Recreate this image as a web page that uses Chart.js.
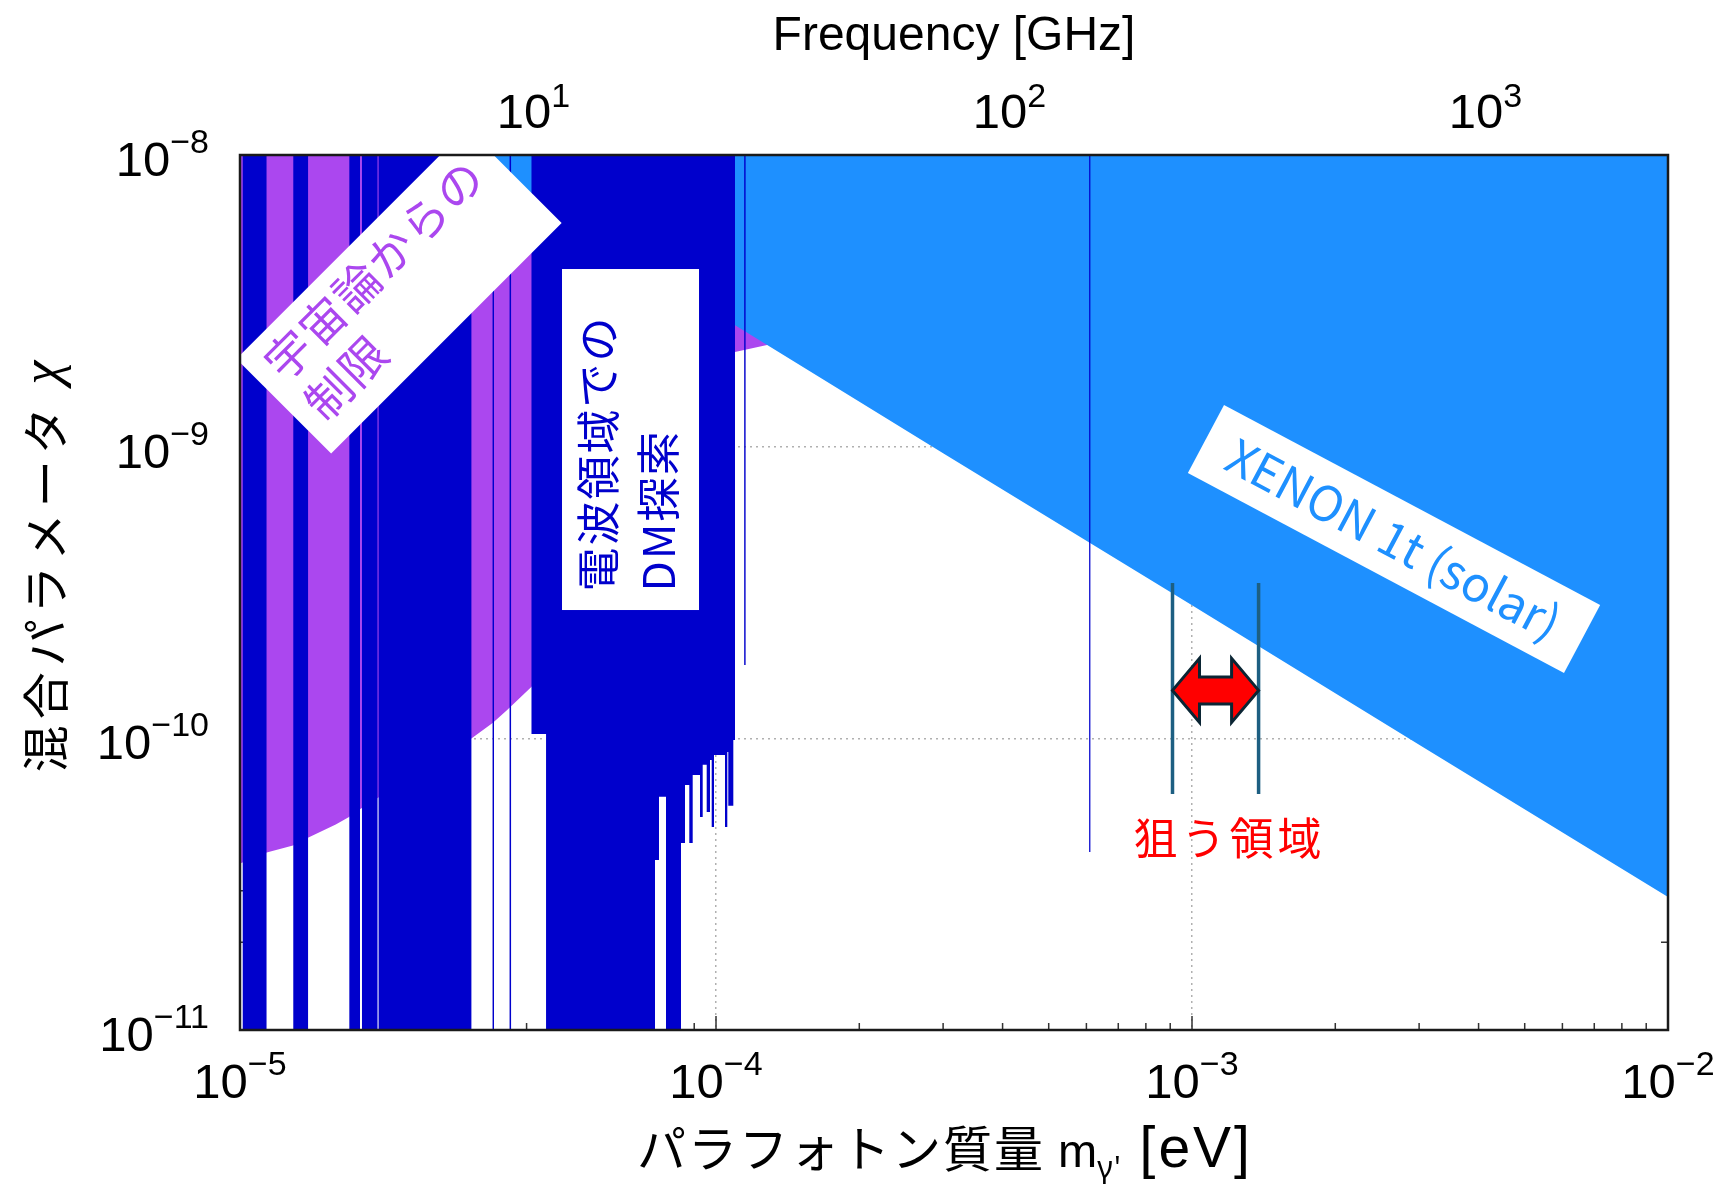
<!DOCTYPE html>
<html>
<head>
<meta charset="utf-8">
<title>パラフォトン探索</title>
<script src="https://cdn.jsdelivr.net/npm/chart.js@4.4.1/dist/chart.umd.min.js"></script>
<style>
  html, body { margin: 0; padding: 0; background: #fff; }
  #wrap { width: 1724px; height: 1189px; position: relative; }
</style>
</head>
<body>
<div id="wrap"><canvas id="chart"></canvas></div>
<script>
// axes (tick labels are 10 raised to these exponents)
const massRange = [1e-5, 1e-2];
const chiRange = [1e-11, 1e-8];
const massTicks = [1e-5, 1e-4, 1e-3, 1e-2];
const massTickLabels = ['−5', '−4', '−3', '−2'];
const chiTicks = [1e-11, 1e-10, 1e-9, 1e-8];
const chiTickLabels = ['−11', '−10', '−9', '−8'];
const freqTicks = [10, 100, 1000];
const freqTickLabels = ['1', '2', '3'];
const GHZ_PER_EV = 2.418e5;

// cosmology bound, lower edge of the purple area
const cosmoMass = [1e-5, 1.138e-5, 1.292e-5, 1.389e-5, 1.589e-5, 1.691e-5, 1.793e-5,
  3.063e-5, 3.399e-5, 3.641e-5, 4.108e-5, 5.7e-5, 8.4e-5, 1.096e-4, 1.28e-4, 1.5e-4];
const cosmoChi = [3.72e-11, 4.06e-11, 4.29e-11, 4.56e-11, 5.06e-11, 5.36e-11, 5.74e-11,
  9.98e-11, 1.13e-10, 1.25e-10, 1.51e-10, 3.8e-10, 1.24e-9, 2.11e-9, 2.23e-9, 2.36e-9];

// XENON1T solar, lower edge of the light blue area
const xenonMass = [1e-5, 4e-5, 1e-4, 3e-4, 1e-3, 3e-3, 1e-2];
const xenonChi = [2.86e-8, 7.1e-9, 2.86e-9, 9.5e-10, 2.86e-10, 9.5e-11, 2.86e-11];

// radio band DM searches: each band from radioLo to radioHi is excluded down to radioChi
const radioLo = [1.012e-5, 1.294e-5, 1.697e-5, 1.804e-5, 1.955e-5, 3.393e-5, 3.684e-5,
  4.096e-5, 4.395e-5, 7.445e-5, 7.590e-5, 7.851e-5, 8.442e-5, 8.607e-5, 8.788e-5,
  8.934e-5, 9.255e-5, 9.377e-5, 9.560e-5, 9.714e-5, 9.794e-5, 9.904e-5, 1.0445e-4,
  1.0562e-4, 1.0613e-4, 1.0874e-4, 1.146e-4, 6.08e-4];
const radioHi = [1.137e-5, 1.390e-5, 1.787e-5, 1.945e-5, 3.063e-5, 3.417e-5, 3.711e-5,
  4.395e-5, 7.445e-5, 7.590e-5, 7.851e-5, 8.442e-5, 8.607e-5, 8.788e-5, 8.934e-5,
  9.255e-5, 9.377e-5, 9.560e-5, 9.714e-5, 9.794e-5, 9.904e-5, 1.0445e-4, 1.0562e-4,
  1.0613e-4, 1.0874e-4, 1.0964e-4, 1.154e-4, 6.124e-4];
const radioChi = [1e-12, 1e-12, 1e-12, 1e-12, 1e-12, 1e-12, 1e-12,
  1.035e-10, 1e-12, 3.83e-11, 6.30e-11, 1e-12, 4.38e-11, 6.92e-11, 4.38e-11,
  7.49e-11, 5.37e-11, 8.11e-11, 5.59e-11, 8.43e-11, 4.97e-11, 8.77e-11, 4.97e-11,
  8.98e-11, 5.87e-11, 9.87e-11, 1.785e-10, 4.08e-11];

// target region (狙う領域)
const targetMass = [9.1e-4, 1.38e-3];
const targetChi = [6.45e-11, 3.41e-10];
const arrowChi = 1.46e-10;

const DARK_BLUE = '#0000CC';
const PURPLE = '#AB47EF';
const XENON_BLUE = '#1E90FF';
const TARGET_COLOR = '#1d5f82';

const radioPoints = [];
radioLo.forEach((lo, i) => {
  radioPoints.push({ x: lo, y: chiRange[1] }, { x: lo, y: radioChi[i] },
    { x: radioHi[i], y: radioChi[i] }, { x: radioHi[i], y: chiRange[1] });
});
const cosmoPoints = cosmoMass.map((m, i) => ({ x: m, y: cosmoChi[i] }));
const xenonPoints = xenonMass.map((m, i) => ({ x: m, y: xenonChi[i] }));

function areaSet(label, points, color) {
  return {
    label: label, data: points, fill: 'end', backgroundColor: color,
    borderColor: 'transparent', borderWidth: 0, pointRadius: 0, tension: 0
  };
}
function targetSet(m) {
  return {
    label: 'target', data: [{ x: m, y: targetChi[0] }, { x: m, y: targetChi[1] }],
    fill: false, borderColor: TARGET_COLOR, borderWidth: 3.5, pointRadius: 0
  };
}

// "10" with a raised exponent
function drawPow(ctx, exp, x, base, align, rise) {
  ctx.font = '49px "Liberation Sans"';
  const wb = ctx.measureText('10').width;
  ctx.font = '34px "Liberation Sans"';
  const we = ctx.measureText(exp).width;
  const x0 = align === 'right' ? x - wb - we : x - (wb + we) / 2;
  ctx.font = '49px "Liberation Sans"';
  ctx.fillText('10', x0, base);
  ctx.font = '34px "Liberation Sans"';
  ctx.fillText(exp, x0 + wb, base - rise);
}

// text made of pieces with their own font / spacing / vertical shift
function drawPieces(ctx, parts, x, base) {
  parts.forEach(p => {
    ctx.font = p.font; ctx.letterSpacing = p.sp || '0px';
    ctx.fillText(p.t, x, base + (p.dy || 0));
    x += ctx.measureText(p.t).width;
  });
}
function piecesWidth(ctx, parts) {
  let w = 0;
  parts.forEach(p => {
    ctx.font = p.font; ctx.letterSpacing = p.sp || '0px';
    w += ctx.measureText(p.t).width;
  });
  return w;
}

// rotated white box with text lines
function textBox(ctx, cx, cy, angle, w, h, lines, opts) {
  ctx.save();
  ctx.translate(cx, cy);
  ctx.rotate(angle * Math.PI / 180);
  ctx.fillStyle = '#fff';
  ctx.fillRect(-w / 2, -h / 2, w, h);
  ctx.fillStyle = opts.color;
  ctx.font = opts.font;
  ctx.letterSpacing = opts.spacing || '0px';
  ctx.textAlign = opts.align;
  ctx.textBaseline = 'middle';
  lines.forEach((t, i) => ctx.fillText(t, opts.x, opts.y[i]));
  ctx.restore();
}

const decor = {
  id: 'decor',
  beforeDatasetsDraw(chart) {
    const { ctx, chartArea: a, scales } = chart;
    ctx.save();
    ctx.strokeStyle = '#333';
    ctx.lineWidth = 1.5;
    ctx.beginPath();
    for (let d = -5; d < -2; d++) {
      for (let k = 1; k < 10; k++) {
        if (k === 1 && d === -5) continue;
        const x = scales.x.getPixelForValue(k * Math.pow(10, d));
        const len = k === 1 ? 14 : 7;
        ctx.moveTo(x, a.bottom); ctx.lineTo(x, a.bottom - len);
      }
    }
    for (let d = -11; d < -8; d++) {
      for (let k = 1; k < 10; k++) {
        if (k === 1 && d === -11) continue;
        const y = scales.y.getPixelForValue(k * Math.pow(10, d));
        const len = k === 1 ? 14 : 7;
        ctx.moveTo(a.left, y); ctx.lineTo(a.left + len, y);
        ctx.moveTo(a.right, y); ctx.lineTo(a.right - len, y);
      }
    }
    for (let d = 0; d < 4; d++) {
      for (let k = 1; k < 10; k++) {
        const v = k * Math.pow(10, d);
        if (v <= scales.x2.min || v >= scales.x2.max) continue;
        const x = scales.x2.getPixelForValue(v);
        const len = k === 1 ? 14 : 7;
        ctx.moveTo(x, a.top); ctx.lineTo(x, a.top + len);
      }
    }
    ctx.stroke();
    ctx.restore();
  },
  afterDatasetsDraw(chart) {
    const { ctx, chartArea: a, scales } = chart;
    const px = m => scales.x.getPixelForValue(m);
    const py = c => scales.y.getPixelForValue(c);

    // cosmology label, clipped by the frame
    ctx.save();
    ctx.beginPath();
    ctx.rect(a.left, a.top, a.width, a.height);
    ctx.clip();
    textBox(ctx, px(2.158e-5), py(3.418e-9), -45, 326, 134, ['宇宙論からの', '制限'],
      { color: PURPLE, font: '46px "Noto Sans CJK JP"', spacing: '2px', align: 'left', x: -146, y: [-33, 24] });
    ctx.restore();

    textBox(ctx, px(6.613e-5), py(1.058e-9), -90, 341, 137, ['電波領域での', 'DM探索'],
      { color: DARK_BLUE, font: '44px "Noto Sans CJK JP"', spacing: '2px', align: 'left', x: -152, y: [-32, 28] });

    textBox(ctx, px(2.657e-3), py(4.826e-10), 28, 426, 77, ['XENON 1t (solar)'],
      { color: XENON_BLUE, font: '48px "Noto Sans CJK JP"', align: 'center', x: 0, y: [0] });

    // double arrow between the target lines
    const xl = px(targetMass[0]), xr = px(targetMass[1]), yc = py(arrowChi);
    const hl = 27, hh = 32, sh = 13.5;
    ctx.save();
    ctx.beginPath();
    ctx.moveTo(xl, yc);
    ctx.lineTo(xl + hl, yc - hh); ctx.lineTo(xl + hl, yc - sh);
    ctx.lineTo(xr - hl, yc - sh); ctx.lineTo(xr - hl, yc - hh);
    ctx.lineTo(xr, yc);
    ctx.lineTo(xr - hl, yc + hh); ctx.lineTo(xr - hl, yc + sh);
    ctx.lineTo(xl + hl, yc + sh); ctx.lineTo(xl + hl, yc + hh);
    ctx.closePath();
    ctx.fillStyle = '#FF0000';
    ctx.fill();
    ctx.lineWidth = 3;
    ctx.strokeStyle = '#0b2534';
    ctx.stroke();

    ctx.fillStyle = '#FF0000';
    ctx.font = '44px "Noto Sans CJK JP"';
    ctx.letterSpacing = '4px';
    ctx.textAlign = 'center';
    ctx.textBaseline = 'middle';
    ctx.fillText('狙う領域', px(1.199e-3), py(4.55e-11));
    ctx.restore();

    // frame
    ctx.save();
    ctx.strokeStyle = '#1a1a1a';
    ctx.lineWidth = 2.5;
    ctx.strokeRect(a.left, a.top, a.width, a.height);
    ctx.restore();
  },
  afterDraw(chart) {
    const { ctx, chartArea: a, scales } = chart;
    const cx = (a.left + a.right) / 2;
    ctx.save();
    ctx.fillStyle = '#000';
    ctx.textBaseline = 'alphabetic';
    ctx.textAlign = 'left';

    // tick labels
    scales.x.ticks.forEach((t, i) =>
      drawPow(ctx, massTickLabels[i], scales.x.getPixelForValue(t.value), a.bottom + 68, 'center', 23));
    scales.x2.ticks.forEach((t, i) =>
      drawPow(ctx, freqTickLabels[i], scales.x2.getPixelForValue(t.value), a.top - 27, 'center', 21));
    scales.y.ticks.forEach((t, i) =>
      drawPow(ctx, chiTickLabels[i], a.left - 31, scales.y.getPixelForValue(t.value) + 21, 'right', 23));

    ctx.font = '48px "Liberation Sans"';
    ctx.textAlign = 'center';
    ctx.fillText('Frequency [GHz]', cx, 50);
    ctx.textAlign = 'left';

    // x title with subscript
    const xTitle = [
      { t: 'パラフォトン質量', font: '49px "Noto Sans CJK JP"', sp: '2px' },
      { t: ' m', font: '47px "Liberation Sans"' },
      { t: "γ'", font: '30px "Noto Sans"', dy: 11 },
      { t: ' [eV]', font: '57px "Liberation Sans"', sp: '3px' }
    ];
    drawPieces(ctx, xTitle, cx - 9 - piecesWidth(ctx, xTitle) / 2, 1167);

    // y title
    const yTitle = [
      { t: '混合パラメータ ', font: '47px "Noto Sans CJK JP"', sp: '6px' },
      { t: 'χ', font: 'italic 54px "Liberation Serif"' }
    ];
    ctx.translate(45, (a.top + a.bottom) / 2 - 26);
    ctx.rotate(-Math.PI / 2);
    ctx.textBaseline = 'middle';
    drawPieces(ctx, yTitle, -piecesWidth(ctx, yTitle) / 2, 0);
    ctx.restore();
  }
};

new Chart(document.getElementById('chart'), {
  type: 'line',
  data: {
    datasets: [
      targetSet(targetMass[0]),
      targetSet(targetMass[1]),
      areaSet('電波領域でのDM探索', radioPoints, DARK_BLUE),
      areaSet('XENON 1t (solar)', xenonPoints, XENON_BLUE),
      areaSet('宇宙論からの制限', cosmoPoints, PURPLE)
    ]
  },
  options: {
    responsive: true,
    maintainAspectRatio: false,
    animation: false,
    events: [],
    layout: { padding: { left: 0, right: 56, top: 0, bottom: 0 } },
    plugins: { legend: { display: false }, tooltip: { enabled: false } },
    scales: {
      x: {
        type: 'logarithmic', position: 'bottom',
        min: massRange[0], max: massRange[1],
        afterBuildTicks: s => { s.ticks = massTicks.map(v => ({ value: v })); },
        afterFit: s => { s.height = 159; },
        ticks: { display: false },
        grid: { color: '#b0b0b0', lineWidth: 1.5, drawTicks: false },
        border: { display: false, dash: [2, 4] }
      },
      x2: {
        type: 'logarithmic', position: 'top',
        min: massRange[0] * GHZ_PER_EV, max: massRange[1] * GHZ_PER_EV,
        afterBuildTicks: s => { s.ticks = freqTicks.map(v => ({ value: v })); },
        afterFit: s => { s.height = 155; },
        ticks: { display: false },
        grid: { display: false, drawTicks: false },
        border: { display: false }
      },
      y: {
        type: 'logarithmic', position: 'left',
        min: chiRange[0], max: chiRange[1],
        afterBuildTicks: s => { s.ticks = chiTicks.map(v => ({ value: v })); },
        afterFit: s => { s.width = 240; },
        ticks: { display: false },
        grid: { color: '#b0b0b0', lineWidth: 1.5, drawTicks: false },
        border: { display: false, dash: [2, 4] }
      }
    }
  },
  plugins: [decor]
});
</script>
</body>
</html>
